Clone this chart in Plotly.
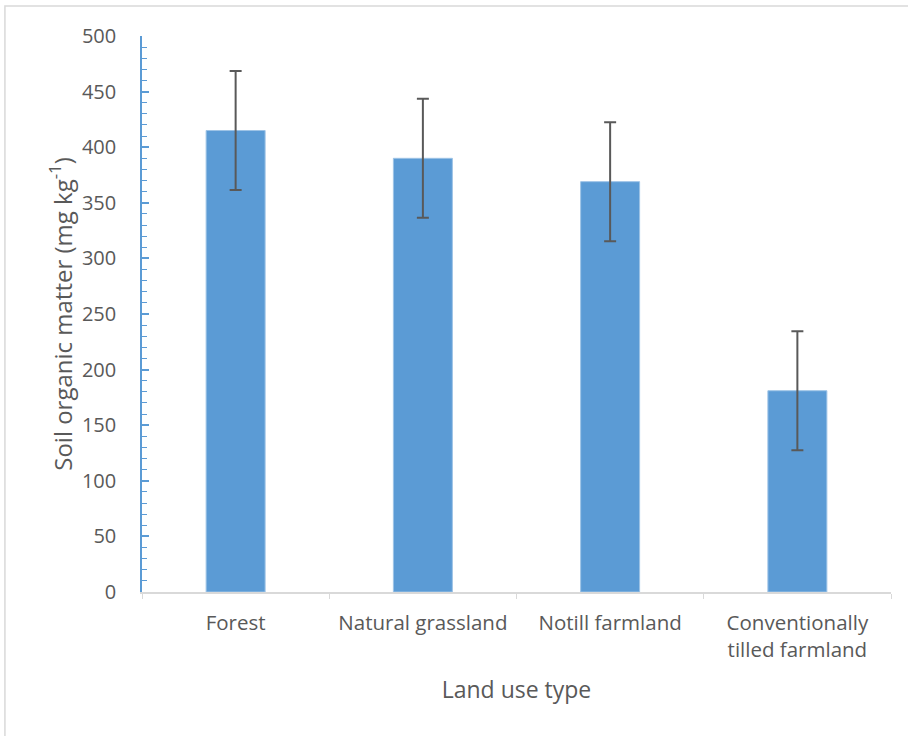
import plotly.graph_objects as go

categories = ["Forest", "Natural grassland", "Notill farmland", "Conventionally<br>tilled farmland"]
som_values = [415, 390, 369, 181]
som_errors = [53.5, 53.5, 53.5, 53.5]
y_ticks = [0, 50, 100, 150, 200, 250, 300, 350, 400, 450, 500]

FONT = "Open Sans"
TXT = "#595959"
BLUE = "#5B9BD5"

fig = go.Figure()
fig.add_trace(go.Bar(
    x=categories,
    y=som_values,
    marker=dict(color=BLUE, line=dict(color="#9DC3E6", width=1)),
    error_y=dict(type="data", array=som_errors, visible=True,
                 color="#595959", thickness=2, width=6),
    showlegend=False,
))

fig.update_layout(
    width=908, height=736,
    margin=dict(l=142, r=17, t=36, b=144),
    paper_bgcolor="white", plot_bgcolor="white",
    bargap=0.685,
    font=dict(family=FONT, color=TXT, size=20),
    xaxis=dict(
        showline=True, linecolor="#D9D9D9", linewidth=1.5,
        ticks="outside", tickson="boundaries", ticklen=5, tickcolor="#D9D9D9",
        ticklabelstandoff=12,
        tickfont=dict(family=FONT, size=20.5, color=TXT),
        title=dict(text="Land use type", font=dict(family=FONT, size=23, color=TXT), standoff=20),
        showgrid=False, zeroline=False,
    ),
    yaxis=dict(
        range=[0, 500], tickvals=y_ticks,
        showline=True, linecolor=BLUE, linewidth=1.5,
        ticks="inside", ticklen=7, tickcolor=BLUE, tickwidth=1.5,
        minor=dict(ticks="inside", dtick=10, ticklen=5, tickcolor=BLUE, tickwidth=1.2),
        ticklabelstandoff=20,
        tickfont=dict(family=FONT, size=20, color=TXT),
        title=dict(text="Soil organic matter (mg kg<sup>-1</sup>)",
                   font=dict(family=FONT, size=24, color=TXT), standoff=3),
        showgrid=False, zeroline=False,
    ),
    shapes=[dict(type="rect", xref="paper", yref="paper",
                 x0=-0.183, x1=1.3, y0=-0.4, y1=1.054,
                 line=dict(color="#D9D9D9", width=1.5), layer="below")],
)

fig.write_html("out.html", config={"displayModeBar": False},
               post_script="document.body.style.margin='0';")
